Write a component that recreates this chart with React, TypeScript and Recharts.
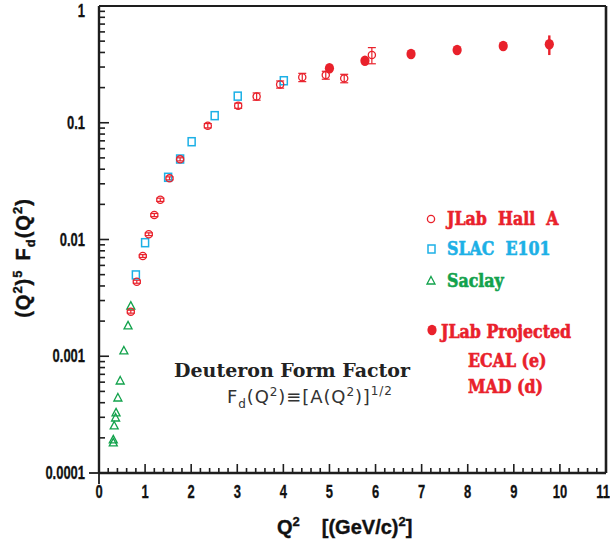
import React from 'react';
import { ScatterChart, Scatter, XAxis, YAxis, ErrorBar, ReferenceLine } from 'recharts';

const W = 610;
const H = 540;
const PLOT_LEFT = 99;
const PLOT_BOTTOM = 473;

const RED = '#e9212b';
const BLUE = '#1cb0e6';
const GREEN = '#12a24c';
const AXIS = '#1e1e1e';

// JLab Hall A (open circles)
const hallAQ2 = [0.69, 0.82, 0.95, 1.08, 1.2, 1.33, 1.53, 1.76, 2.36, 3.02, 3.42, 3.93, 4.41, 4.92, 5.32, 5.92];
const hallAF = [0.00241, 0.00435, 0.00722, 0.0111, 0.0162, 0.0219, 0.0334, 0.0486, 0.0944, 0.14, 0.168, 0.213, 0.245, 0.256, 0.24, 0.38];
const hallAErr = [0.00007, 0.00013, 0.0002, 0.0003, 0.0005, 0.0007, 0.001, 0.0015, 0.004, 0.007, 0.012, 0.015, 0.02, 0.02, 0.02, 0.06];

// SLAC E101 (open squares)
const slacQ2 = [0.8, 1.0, 1.5, 1.76, 2.01, 2.51, 3.01, 4.01];
const slacF = [0.00497, 0.00939, 0.0341, 0.0489, 0.0688, 0.115, 0.169, 0.229];

// Saclay (open triangles)
const saclayQ2 = [0.69, 0.63, 0.54, 0.46, 0.41, 0.37, 0.36, 0.33, 0.31, 0.31];
const saclayF = [0.00269, 0.00182, 0.00111, 0.000614, 0.000439, 0.000327, 0.000296, 0.000253, 0.000192, 0.000181];

// JLab projected (filled circles)
const projQ2 = [5.0, 5.77, 6.77, 7.77, 8.77, 9.77];
const projF = [0.293, 0.34, 0.388, 0.42, 0.454, 0.47];
const projErr = [0.006, 0.008, 0.01, 0.015, 0.03, 0.09];

const xMajorTicks = [0, 1, 2, 3, 4, 5, 6, 7, 8, 9, 10, 11];
const xTickLabels = ['0', '1', '2', '3', '4', '5', '6', '7', '8', '9', '10', '11'];
const yMajorTicks = [0.0001, 0.001, 0.01, 0.1, 1];
const yTickLabels = ['0.0001', '0.001', '0.01', '0.1', '1'];

const xTicks: number[] = [];
for (let i = 0; i < xMajorTicks.length - 1; i++) {
  for (let k = 0; k < 5; k++) xTicks.push(xMajorTicks[i] + k / 5);
}
xTicks.push(xMajorTicks[xMajorTicks.length - 1]);

const yTicks: number[] = [];
for (let i = 0; i < yMajorTicks.length - 1; i++) {
  for (let m = 1; m < 10; m++) yTicks.push(yMajorTicks[i] * m);
}
yTicks.push(yMajorTicks[yMajorTicks.length - 1]);

const hallAData = hallAQ2.map((q, i) => ({ x: q, y: hallAF[i], err: hallAErr[i] }));
const slacData = slacQ2.map((q, i) => ({ x: q, y: slacF[i] }));
const saclayData = saclayQ2.map((q, i) => ({ x: q, y: saclayF[i] }));
const projData = projQ2.map((q, i) => ({ x: q, y: projF[i], err: projErr[i] }));

const TICK_FONT = "'Liberation Sans', Arial, sans-serif";

const XTick = (props: any) => {
  const { x, payload } = props;
  const v = payload.value;
  const idx = xMajorTicks.findIndex((m) => Math.abs(m - v) < 1e-6);
  const major = idx >= 0;
  const last = idx === xMajorTicks.length - 1;
  return (
    <g>
      <line x1={x} x2={x} y1={PLOT_BOTTOM} y2={PLOT_BOTTOM - (major ? 9 : 5)} stroke={AXIS} strokeWidth={1.6} />
      {idx === 0 && <line x1={x} x2={x} y1={PLOT_BOTTOM} y2={PLOT_BOTTOM + 11} stroke={AXIS} strokeWidth={1.8} />}
      {major && (
        <text
          transform={`translate(${last ? x - 3 : x},498) scale(0.72,1)`}
          textAnchor="middle"
          fontFamily={TICK_FONT}
          fontWeight="bold"
          fontSize={18}
          fill="#111"
          stroke="#111"
          strokeWidth={0.3}
        >
          {xTickLabels[idx]}
        </text>
      )}
    </g>
  );
};

const YTick = (props: any) => {
  const { y, payload } = props;
  const v = payload.value;
  const idx = yMajorTicks.findIndex((m) => Math.abs(m - v) / m < 1e-6);
  const major = idx >= 0;
  return (
    <g>
      <line x1={PLOT_LEFT} x2={PLOT_LEFT + (major ? 10 : 6)} y1={y} y2={y} stroke={AXIS} strokeWidth={1.6} />
      {idx === 0 && <line x1={PLOT_LEFT - 10} x2={PLOT_LEFT} y1={y} y2={y} stroke={AXIS} strokeWidth={1.8} />}
      {major && (
        <text
          transform={`translate(85,${Math.max(y + 6, 17)}) scale(0.72,1)`}
          textAnchor="end"
          fontFamily={TICK_FONT}
          fontWeight="bold"
          fontSize={18}
          fill="#111"
          stroke="#111"
          strokeWidth={0.3}
        >
          {yTickLabels[idx]}
        </text>
      )}
    </g>
  );
};

const OpenCircle = (p: any) => (
  <circle cx={p.cx} cy={p.cy} r={3.6} fill="none" stroke={RED} strokeWidth={1.3} />
);
const OpenSquare = (p: any) => (
  <rect x={p.cx - 3.5} y={p.cy - 4} width={7} height={8} fill="none" stroke={BLUE} strokeWidth={1.5} />
);
const OpenTriangle = (p: any) => (
  <path
    d={`M${p.cx},${p.cy - 4.5} L${p.cx + 4},${p.cy + 3} L${p.cx - 4},${p.cy + 3} Z`}
    fill="none"
    stroke={GREEN}
    strokeWidth={1.3}
  />
);
const FilledDot = (p: any) => <ellipse cx={p.cx} cy={p.cy} rx={4.6} ry={5.2} fill={RED} />;

const LEG_FONT = "'DejaVu Serif', serif";

const LegendText = ({ x, y, color, children }: any) => (
  <g transform={`translate(${x},${y}) scale(0.88,1)`}>
    <text
      fontFamily={LEG_FONT}
      fontWeight="bold"
      fontSize={18}
      fill={color}
      stroke={color}
      strokeWidth={0.6}
      style={{ whiteSpace: 'pre' }}
    >
      {children}
    </text>
  </g>
);

export default function App() {
  return (
    <div style={{ position: 'absolute', left: 0, top: 0, width: W, height: H, background: '#fff' }}>
      <ScatterChart width={W} height={H} margin={{ top: 6, right: 4, bottom: 0, left: 0 }}>
        <XAxis
          dataKey="x"
          type="number"
          domain={[0, 11]}
          ticks={xTicks}
          interval={0}
          allowDataOverflow
          height={67}
          tickLine={false}
          axisLine={{ stroke: AXIS, strokeWidth: 2.4 }}
          tick={<XTick />}
        />
        <YAxis
          dataKey="y"
          type="number"
          scale="log"
          domain={[0.0001, 1]}
          ticks={yTicks}
          interval={0}
          allowDataOverflow
          width={99}
          tickLine={false}
          axisLine={{ stroke: AXIS, strokeWidth: 2.4 }}
          tick={<YTick />}
        />
        <ReferenceLine x={11} stroke={AXIS} strokeWidth={2.6} />
        <ReferenceLine y={1} stroke={AXIS} strokeWidth={2.2} />
        <Scatter data={saclayData} shape={OpenTriangle} isAnimationActive={false} />
        <Scatter data={slacData} shape={OpenSquare} isAnimationActive={false} />
        <Scatter data={hallAData} shape={OpenCircle} isAnimationActive={false}>
          <ErrorBar dataKey="err" direction="y" width={4} stroke={RED} strokeWidth={1.2} />
        </Scatter>
        <Scatter data={projData} shape={FilledDot} isAnimationActive={false}>
          <ErrorBar dataKey="err" direction="y" width={0} stroke={RED} strokeWidth={2.4} />
        </Scatter>
      </ScatterChart>
      <svg
        width={W}
        height={H}
        style={{ position: 'absolute', left: 0, top: 0, pointerEvents: 'none' }}
      >
        {/* Y axis title */}
        <text
          transform="translate(30,258) rotate(-90)"
          textAnchor="middle"
          fontFamily={TICK_FONT}
          fontWeight="bold"
          fontSize={20}
          fill="#111"
          stroke="#111"
          strokeWidth={0.4}
          letterSpacing={1}
        >
          (Q<tspan dy={-8} fontSize={13}>2</tspan>
          <tspan dy={8}>)</tspan>
          <tspan dy={-8} fontSize={13}>5</tspan>
          <tspan dy={8} dx={9}>F</tspan>
          <tspan dy={5} fontSize={13}>d</tspan>
          <tspan dy={-5}>(Q</tspan>
          <tspan dy={-8} fontSize={13}>2</tspan>
          <tspan dy={8}>)</tspan>
        </text>
        {/* X axis title */}
        <text
          x={277}
          y={534}
          fontFamily={TICK_FONT}
          fontWeight="bold"
          fontSize={20}
          fill="#111"
          stroke="#111"
          strokeWidth={0.4}
        >
          Q<tspan dy={-8} fontSize={13}>2</tspan>
          <tspan dy={8} dx={22}>[(GeV/c)</tspan>
          <tspan dy={-8} fontSize={13}>2</tspan>
          <tspan dy={8}>]</tspan>
        </text>
        {/* Inset title */}
        <text x={174} y={377} fontFamily={LEG_FONT} fontWeight="bold" fontSize={19} fill="#222">
          Deuteron Form Factor
        </text>
        <text x={227} y={403} fontFamily="'DejaVu Sans', sans-serif" fontSize={18} fill="#333" letterSpacing={0.9}>
          F<tspan dy={5} fontSize={12}>d</tspan>
          <tspan dy={-5}>(Q</tspan>
          <tspan dy={-7} fontSize={12}>2</tspan>
          <tspan dy={7}>)≡[A(Q</tspan>
          <tspan dy={-7} fontSize={12}>2</tspan>
          <tspan dy={7}>)]</tspan>
          <tspan dy={-8} fontSize={12}>1/2</tspan>
        </text>
        {/* Legend */}
        <circle cx={431} cy={219} r={3.6} fill="none" stroke={RED} strokeWidth={1.3} />
        <LegendText x={447} y={225} color={RED}>{'JLab  Hall  A'}</LegendText>
        <rect x={428} y={245} width={7} height={8} fill="none" stroke={BLUE} strokeWidth={1.5} />
        <LegendText x={447} y={255} color={BLUE}>{'SLAC  E101'}</LegendText>
        <path d="M431,276.5 L435,284 L427,284 Z" fill="none" stroke={GREEN} strokeWidth={1.3} />
        <LegendText x={447} y={287} color={GREEN}>Saclay</LegendText>
        <ellipse cx={432} cy={330} rx={4.6} ry={5.2} fill={RED} />
        <LegendText x={441} y={338} color={RED}>JLab Projected</LegendText>
        <LegendText x={468} y={367} color={RED}>ECAL (e)</LegendText>
        <LegendText x={468} y={393} color={RED}>MAD (d)</LegendText>
      </svg>
    </div>
  );
}
